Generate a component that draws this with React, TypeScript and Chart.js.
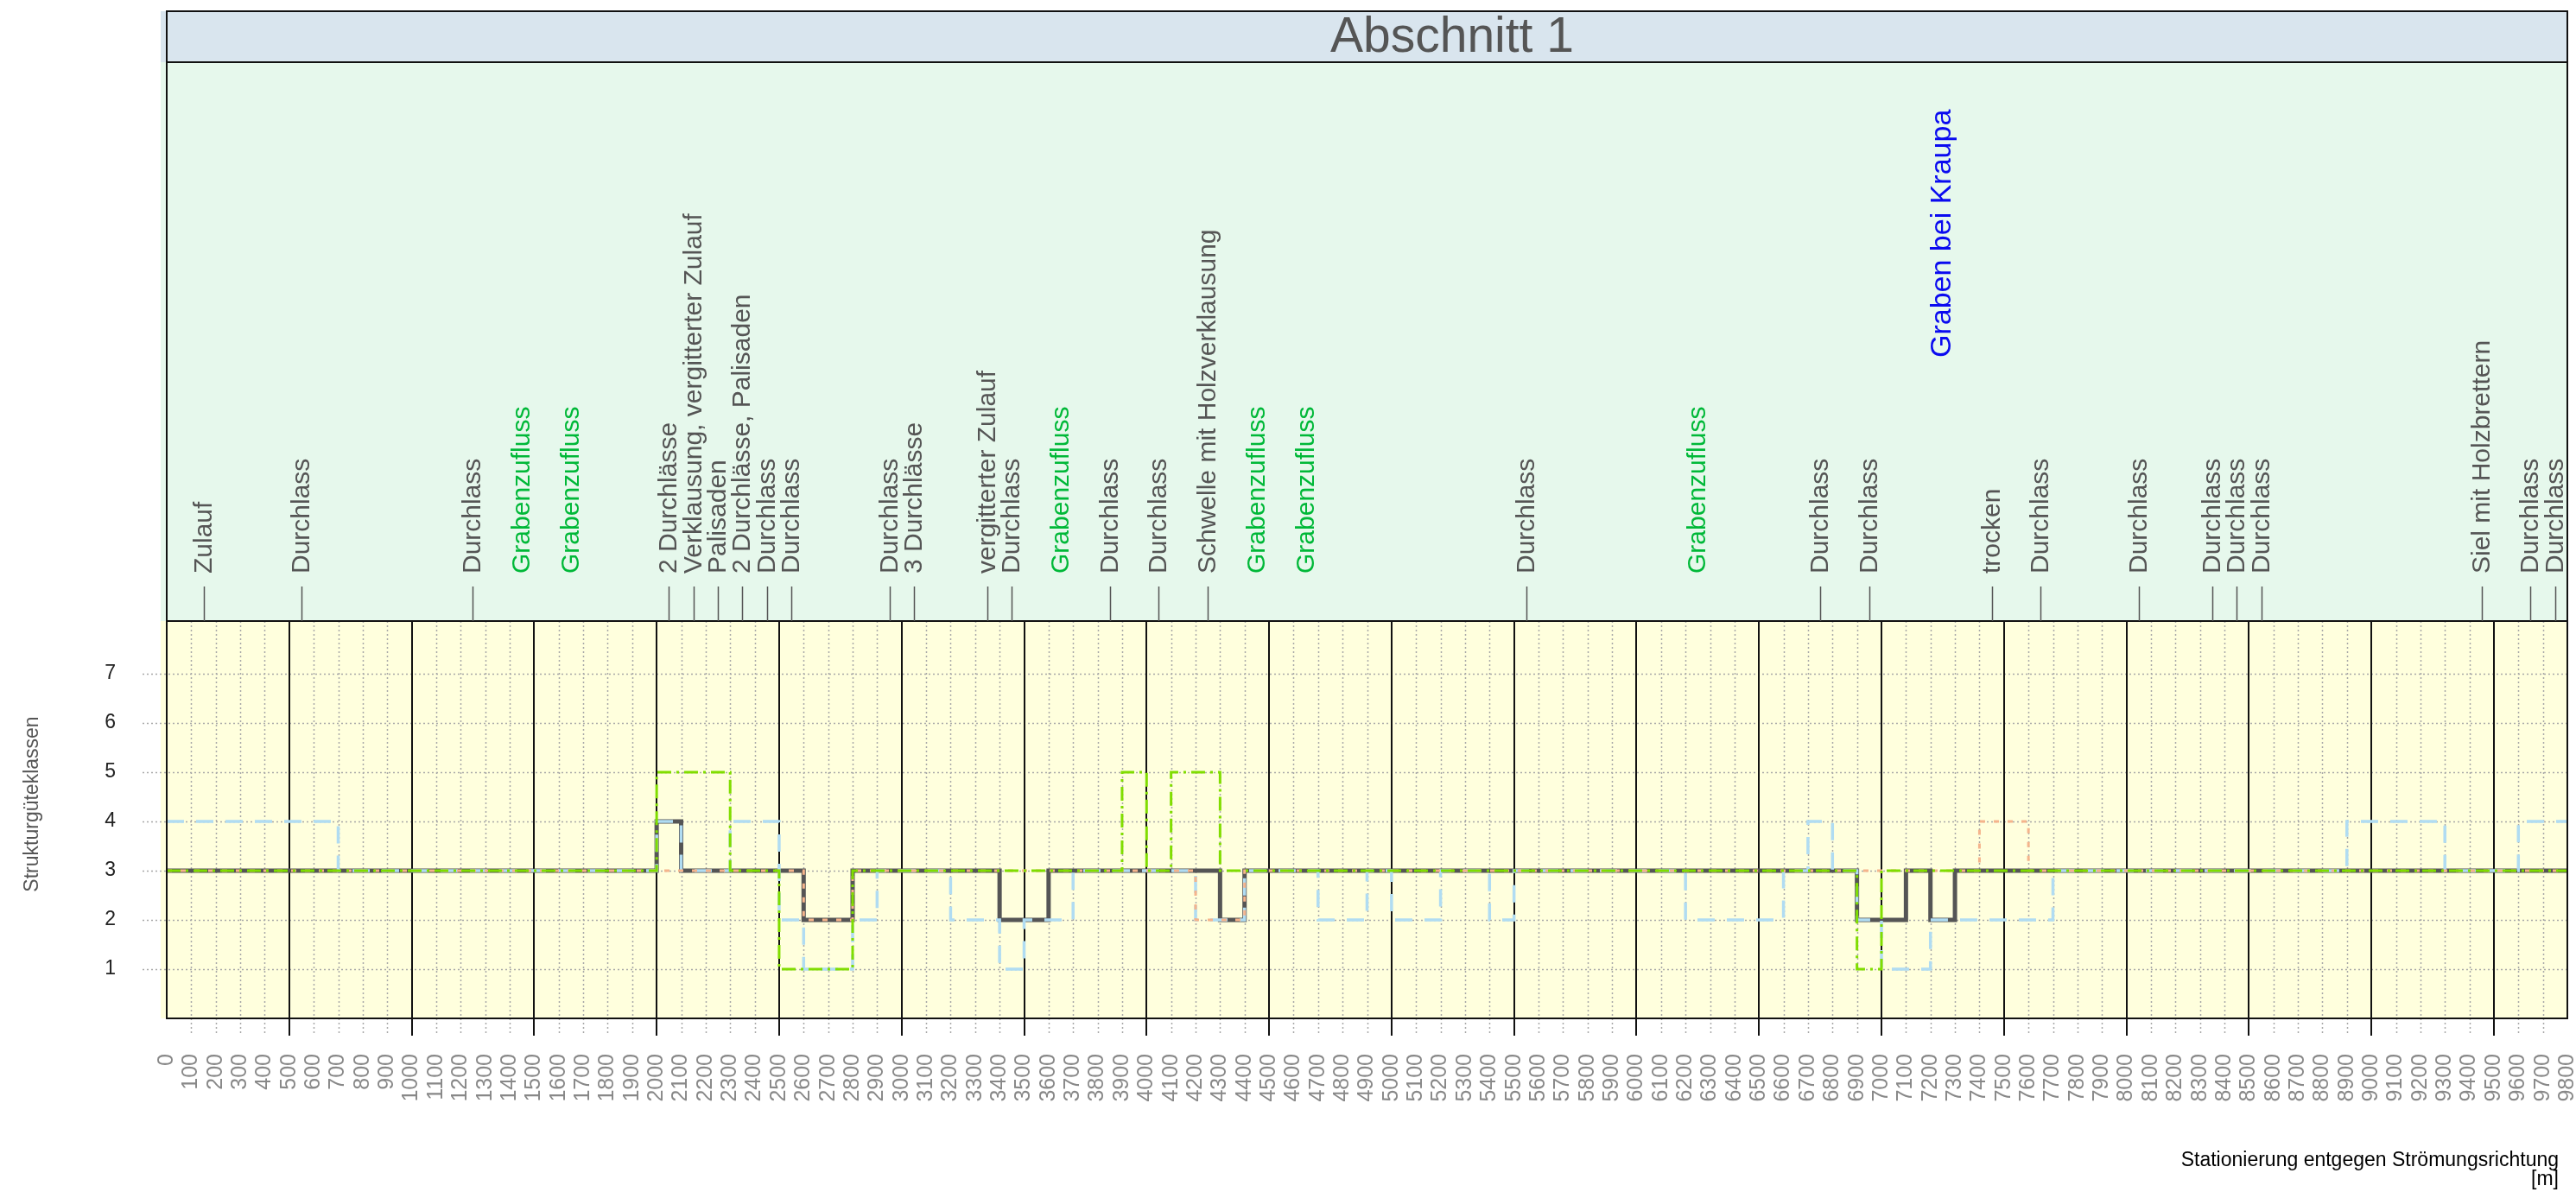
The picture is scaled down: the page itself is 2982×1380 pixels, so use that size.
import React, { useEffect, useRef } from 'react';
import { Chart, registerables } from 'chart.js';

Chart.register(...registerables);

// ---------------- data ----------------
const sectionTitle = 'Abschnitt 1';
const waterName = 'Graben bei Kraupa';
const waterNameStation = 7250;

const xAxisTitle = ['Stationierung entgegen Strömungsrichtung', '[m]'];
const yAxisTitle = 'Strukturgüteklassen';

// Gesamtbewertung (dark grey, solid)
const gesamtStations = [0, 2000, 2100, 2600, 2800, 3400, 3600, 4300, 4400, 6900, 7100, 7200, 7300, 9800];
const gesamtClasses = [3, 4, 3, 2, 3, 2, 3, 2, 3, 2, 3, 2, 3, 3];

// Sohle (green, dash-dot)
const sohleStations = [0, 2000, 2300, 2500, 2800, 3900, 4000, 4100, 4300, 6900, 7000, 9800];
const sohleClasses = [3, 5, 3, 1, 3, 5, 3, 5, 3, 1, 3, 3];

// Ufer (light blue, dashed)
const uferStations = [0, 700, 2000, 2100, 2300, 2500, 2600, 2800, 2900, 3200, 3400, 3500, 3700, 4200, 4400, 4700, 4900, 5000, 5200, 5400, 5500, 6200, 6600, 6700, 6800, 6900, 7000, 7200, 7700, 8900, 9300, 9600, 9800];
const uferClasses = [4, 3, 4, 3, 4, 2, 1, 2, 3, 2, 1, 2, 3, 2, 3, 2, 3, 2, 3, 2, 3, 2, 3, 4, 3, 2, 1, 2, 3, 4, 3, 4, 4];

// Land (salmon, dotted)
const landStations = [0, 2600, 2800, 4200, 4400, 7400, 7600, 9800];
const landClasses = [3, 2, 3, 2, 3, 4, 3, 3];

// Annotations above the plot
const annotationStations = [150, 550, 1250, 1450, 1650, 2050, 2150, 2250, 2350, 2450, 2550, 2950, 3050, 3350, 3450, 3650, 3850, 4050, 4250, 4450, 4650, 5550, 6250, 6750, 6950, 7450, 7650, 8050, 8350, 8450, 8550, 9450, 9650, 9750];
const annotationTexts = [
  'Zulauf', 'Durchlass', 'Durchlass', 'Grabenzufluss', 'Grabenzufluss',
  '2 Durchlässe', 'Verklausung, vergitterter Zulauf', 'Palisaden', '2 Durchlässe, Palisaden', 'Durchlass', 'Durchlass',
  'Durchlass', '3 Durchlässe', 'vergitterter Zulauf', 'Durchlass', 'Grabenzufluss', 'Durchlass', 'Durchlass',
  'Schwelle mit Holzverklausung', 'Grabenzufluss', 'Grabenzufluss', 'Durchlass', 'Grabenzufluss',
  'Durchlass', 'Durchlass', 'trocken', 'Durchlass', 'Durchlass', 'Durchlass', 'Durchlass', 'Durchlass',
  'Siel mit Holzbrettern', 'Durchlass', 'Durchlass',
];
const annotationIsInflow = annotationTexts.map((t) => t === 'Grabenzufluss');

// axis ranges
const X_MIN = 0;
const X_MAX = 9800;
const X_STEP = 100;
const Y_MIN = 0;
const Y_MAX = 8.07;
const yTickLabels = [1, 2, 3, 4, 5, 6, 7];

// ---------------- layout constants ----------------
const W = 2982;
const H = 1380;
const FONT = '"Liberation Sans", Arial, Helvetica, sans-serif';
const TITLE_TOP = 13;
const TITLE_BOTTOM = 72;
const PLOT_TOP = 719;
const PLOT_BOTTOM = 1179;
const PLOT_LEFT = 193;
const PLOT_RIGHT = 2972;

const toPoints = (st: number[], v: number[]) => st.map((s, i) => ({ x: s, y: v[i] }));

const decor = {
  id: 'decor',
  beforeDraw(chart: any) {
    const { ctx, chartArea: ca, scales } = chart;
    const xs = scales.x;
    const ys = scales.y;
    ctx.save();
    // backgrounds
    ctx.fillStyle = '#D9E5EE';
    ctx.fillRect(ca.left - 7, TITLE_TOP, ca.right - ca.left + 7, TITLE_BOTTOM - TITLE_TOP);
    ctx.fillStyle = '#E6F8EC';
    ctx.fillRect(ca.left - 7, TITLE_BOTTOM, ca.right - ca.left + 7, ca.top - TITLE_BOTTOM);
    ctx.fillStyle = '#FFFFDD';
    ctx.fillRect(ca.left - 7, ca.top, ca.right - ca.left + 7, ca.bottom - ca.top);

    // horizontal dotted grid
    ctx.strokeStyle = '#A8A8A8';
    ctx.lineWidth = 1.5;
    ctx.setLineDash([2, 3]);
    for (const v of yTickLabels) {
      const py = Math.round(ys.getPixelForValue(v)) + 0.5;
      ctx.beginPath();
      ctx.moveTo(ca.left - 28, py);
      ctx.lineTo(ca.right, py);
      ctx.stroke();
    }
    // minor vertical dotted grid
    for (let v = X_MIN + X_STEP; v < X_MAX; v += X_STEP) {
      if (v % 500 === 0) continue;
      const px = Math.round(xs.getPixelForValue(v)) + 0.5;
      ctx.beginPath();
      ctx.moveTo(px, ca.top);
      ctx.lineTo(px, ca.bottom + 20);
      ctx.stroke();
    }
    ctx.setLineDash([]);
    // major vertical lines
    ctx.strokeStyle = '#111';
    ctx.lineWidth = 2;
    for (let v = 500; v < X_MAX; v += 500) {
      const px = Math.round(xs.getPixelForValue(v));
      ctx.beginPath();
      ctx.moveTo(px, ca.top);
      ctx.lineTo(px, ca.bottom + 20);
      ctx.stroke();
    }
    ctx.restore();
  },
  afterDraw(chart: any) {
    const { ctx, chartArea: ca, scales } = chart;
    const xs = scales.x;
    ctx.save();
    // borders
    ctx.strokeStyle = '#111';
    ctx.lineWidth = 2;
    ctx.strokeRect(ca.left, TITLE_TOP, ca.right - ca.left, TITLE_BOTTOM - TITLE_TOP);
    ctx.strokeRect(ca.left, ca.top, ca.right - ca.left, ca.bottom - ca.top);
    ctx.beginPath();
    ctx.moveTo(ca.left, TITLE_TOP);
    ctx.lineTo(ca.left, ca.bottom);
    ctx.moveTo(ca.right, TITLE_TOP);
    ctx.lineTo(ca.right, ca.bottom);
    ctx.stroke();

    // title
    ctx.fillStyle = '#555';
    ctx.font = `57px ${FONT}`;
    ctx.textAlign = 'center';
    ctx.textBaseline = 'middle';
    ctx.fillText(sectionTitle, 1681, 44);

    // annotations
    annotationStations.forEach((s, i) => {
      const px = Math.round(xs.getPixelForValue(s)) + 0.5;
      const inflow = annotationIsInflow[i];
      if (!inflow) {
        ctx.strokeStyle = '#555';
        ctx.lineWidth = 1.5;
        ctx.beginPath();
        ctx.moveTo(px, 679);
        ctx.lineTo(px, ca.top);
        ctx.stroke();
      }
      ctx.save();
      ctx.translate(px, 664);
      ctx.rotate(-Math.PI / 2);
      ctx.font = `30px ${FONT}`;
      ctx.fillStyle = inflow ? '#00B838' : '#555';
      ctx.textAlign = 'left';
      ctx.textBaseline = 'middle';
      ctx.fillText(annotationTexts[i], 0, 0);
      ctx.restore();
    });
    // water body name
    ctx.save();
    ctx.translate(xs.getPixelForValue(waterNameStation), 414);
    ctx.rotate(-Math.PI / 2);
    ctx.font = `34px ${FONT}`;
    ctx.fillStyle = '#0A0AF0';
    ctx.textAlign = 'left';
    ctx.textBaseline = 'middle';
    ctx.fillText(waterName, 0, 0);
    ctx.restore();

    // y axis title
    ctx.save();
    ctx.translate(38, 931);
    ctx.rotate(-Math.PI / 2);
    ctx.font = `23px ${FONT}`;
    ctx.fillStyle = '#555';
    ctx.textAlign = 'center';
    ctx.textBaseline = 'middle';
    ctx.fillText(yAxisTitle, 0, 0);
    ctx.restore();

    // x axis title
    ctx.font = `23px ${FONT}`;
    ctx.fillStyle = '#000';
    ctx.textAlign = 'right';
    ctx.textBaseline = 'alphabetic';
    ctx.fillText(xAxisTitle[0], 2962, 1350);
    ctx.fillText(xAxisTitle[1], 2962, 1372);
    ctx.restore();
  },
};

export default function App() {
  const ref = useRef<HTMLCanvasElement | null>(null);
  useEffect(() => {
    const canvas = ref.current;
    if (!canvas) return;
    Chart.defaults.font.family = FONT;
    const chart = new Chart(canvas, {
      type: 'line',
      data: {
        datasets: [
          {
            label: 'Sohle',
            data: toPoints(sohleStations, sohleClasses),
            borderColor: '#80DD00',
            borderWidth: 3,
            borderDash: [16, 6, 3, 6],
            stepped: 'before',
            pointRadius: 0,
            fill: false,
            order: 1,
          },
          {
            label: 'Land',
            data: toPoints(landStations, landClasses),
            borderColor: '#F5B48C',
            borderWidth: 3,
            borderDash: [6, 10],
            stepped: 'before',
            pointRadius: 0,
            fill: false,
            order: 2,
          },
          {
            label: 'Ufer',
            data: toPoints(uferStations, uferClasses),
            borderColor: '#B0DCF2',
            borderWidth: 3.5,
            borderDash: [20, 14],
            stepped: 'before',
            pointRadius: 0,
            fill: false,
            order: 3,
          },
          {
            label: 'Gesamt',
            data: toPoints(gesamtStations, gesamtClasses),
            borderColor: '#555555',
            borderWidth: 5,
            borderJoinStyle: 'miter',
            stepped: 'before',
            pointRadius: 0,
            fill: false,
            order: 4,
          },
        ],
      },
      options: {
        responsive: false,
        devicePixelRatio: 1,
        animation: false,
        events: [],
        layout: { padding: { top: PLOT_TOP, left: 0, right: W - PLOT_RIGHT, bottom: 0 } },
        plugins: { legend: { display: false }, tooltip: { enabled: false }, title: { display: false } },
        scales: {
          x: {
            type: 'linear',
            min: X_MIN,
            max: X_MAX,
            grid: { display: false, drawTicks: false },
            border: { display: false },
            ticks: {
              stepSize: X_STEP,
              autoSkip: false,
              minRotation: 90,
              maxRotation: 90,
              padding: 41,
              color: '#888888',
              font: { size: 25, family: FONT },
              callback: (v: any) => String(Math.round(Number(v))),
            },
            afterFit: (s: any) => {
              s.height = H - PLOT_BOTTOM;
              s.paddingLeft = 0;
              s.paddingRight = 0;
            },
          },
          y: {
            type: 'linear',
            min: Y_MIN,
            max: Y_MAX,
            grid: { display: false, drawTicks: false },
            border: { display: false },
            ticks: {
              stepSize: 1,
              padding: 59,
              color: '#222',
              font: { size: 23, family: FONT },
              callback: (v: any) => (yTickLabels.includes(Number(v)) ? String(v) : ''),
            },
            afterFit: (s: any) => {
              s.width = PLOT_LEFT;
              s.paddingTop = 0;
              s.paddingBottom = 0;
            },
          },
        },
      },
      plugins: [decor],
    } as any);
    return () => chart.destroy();
  }, []);
  return (
    <div style={{ position: 'absolute', left: 0, top: 0, width: W, height: H, background: '#fff' }}>
      <canvas ref={ref} width={W} height={H} style={{ width: W, height: H, display: 'block' }} />
    </div>
  );
}
